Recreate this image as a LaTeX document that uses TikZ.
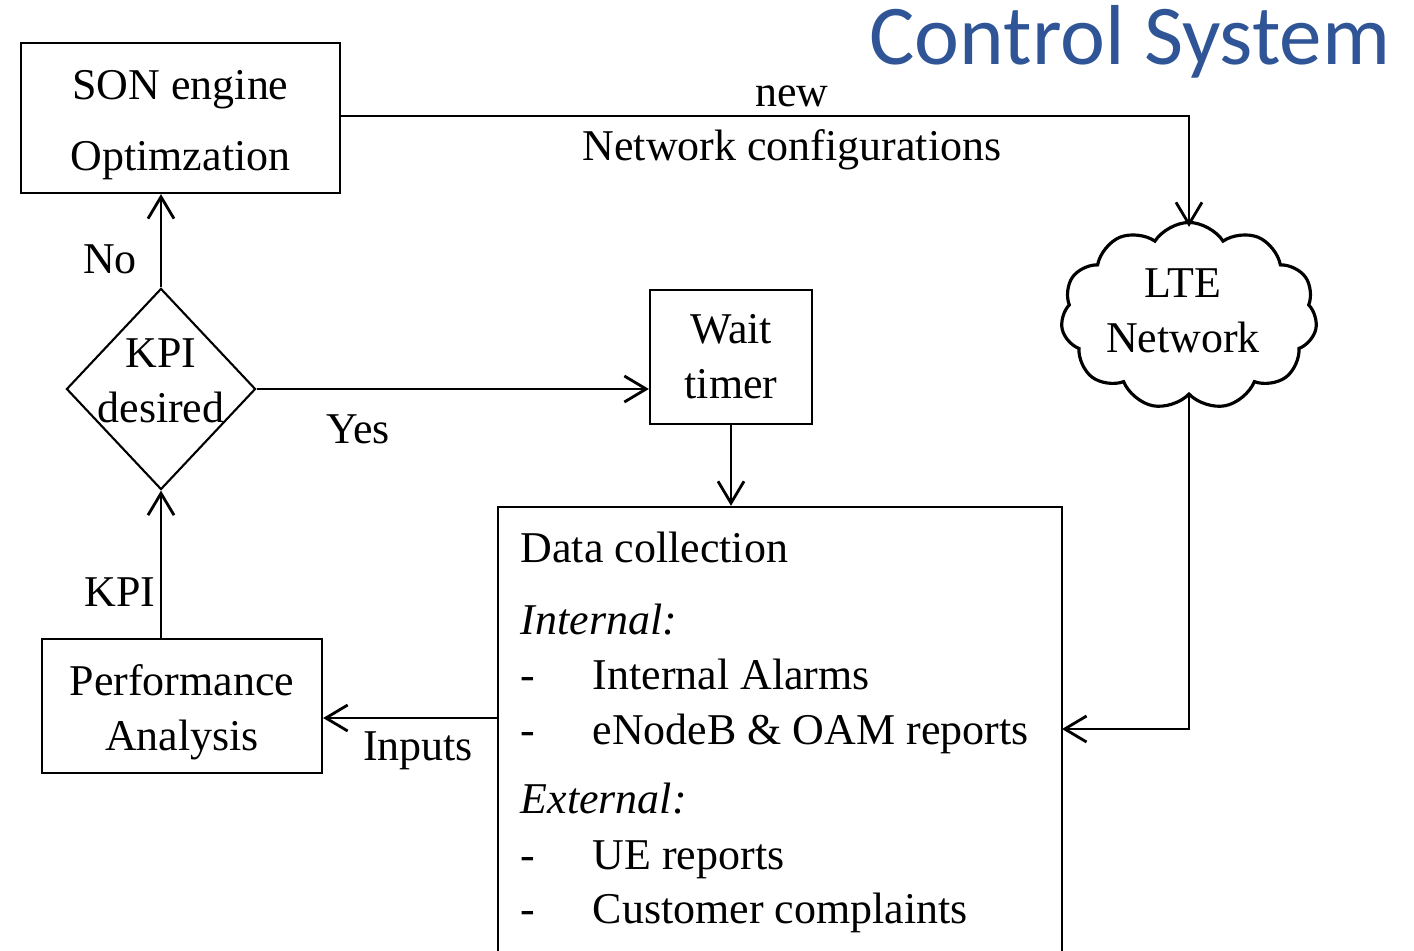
\documentclass[tikz,border=0pt]{standalone}
\usepackage{fontspec}
\setmainfont{Liberation Serif}
\newfontfamily\titlefont{Carlito}
\usetikzlibrary{arrows.meta,shapes.geometric,shapes.symbols}
\definecolor{titleblue}{RGB}{47,85,151}
\tikzset{
  box/.style={draw, line width=0.6pt, rectangle, inner sep=0pt},
  ctext/.style={inner sep=0pt, align=center},
  conn/.style={line width=0.8pt, -{Straight Barb[length=6.2pt,width=7.4pt,line width=0.8pt]}},
  txt/.style={inner sep=0pt, anchor=base},
  ltxt/.style={inner sep=0pt, anchor=base west},
}
\begin{document}
\begin{tikzpicture}[x=0.01cm,y=-0.01cm,font=\fontsize{12.5}{15.6}\selectfont]
\useasboundingbox (0,0) rectangle (1414,951);
\clip (0,0) rectangle (1414,951);
% title
\node[inner sep=0pt, anchor=base east, text=titleblue, font=\titlefont\fontsize{24.2}{28}\selectfont] (title) at (1391,64) {Control System};
% boxes
\node[box, minimum width=3.19cm, minimum height=1.50cm] (son) at (180.5,118) {};
\node[ctext] (sontext) at (180.5,125) {SON engine\\[4.6pt]Optimzation};
\node[box, minimum width=1.62cm, minimum height=1.34cm] (wait) at (731,357) {};
\node[ctext] (waittext) at (731,357) {Wait\\timer};
\node[box, minimum width=2.80cm, minimum height=1.34cm] (perf) at (182,706) {};
\node[ctext] (perftext) at (182,712) {Performance\\Analysis};
\node[draw, line width=0.6pt, diamond, minimum width=1.89cm, minimum height=2.01cm, inner sep=0pt] (dec) at (161,389) {};
\node[ctext] (dectext) at (161,381) {KPI\\desired};
\node[draw, line width=0.9pt, cloud, cloud puffs=11, cloud puff arc=115, minimum width=2.56cm, minimum height=1.87cm, inner sep=0pt] (lte) at (1189,316) {};
\node[ctext] (ltetext) at (1183,311) {LTE\\Network};
\node[draw, line width=0.6pt, rectangle, minimum width=5.64cm, minimum height=4.93cm, inner sep=0pt] (data) at (780,753.5) {};
% data collection text
\node[ltxt] (d1) at (520,562.7) {Data collection};
\node[ltxt] (d2) at (520,634) {\textit{Internal:}};
\node[ltxt] (d3a) at (520,689) {-};
\node[ltxt] (d3) at (592,689) {Internal Alarms};
\node[ltxt] (d4a) at (520,744) {-};
\node[ltxt] (d4) at (592,744) {eNodeB \& OAM reports};
\node[ltxt] (d5) at (520,813) {\textit{External:}};
\node[ltxt] (d6a) at (520,869) {-};
\node[ltxt] (d6) at (592,869) {UE reports};
\node[ltxt] (d7a) at (520,923) {-};
\node[ltxt] (d7) at (592,923) {Customer complaints};
% connector anchors
\coordinate (dcin) at (1062,729);
\coordinate (dcout) at (498,718);
% connectors
\draw[conn] (son.east |- 0,116) -| ([yshift=-0.06cm]lte.north);
\draw[conn] (lte.south) |- (dcin);
\draw[conn] (dec.north) -- (dec.north |- son.south);
\draw[conn] (dec.east) -- (dec.east -| wait.west);
\draw[conn] (wait.south) -- (wait.south |- data.north);
\draw[conn] (dcout) -- (dcout -| perf.east);
\draw[conn] (perf.north -| dec.south) -- (dec.south);
% labels
\node[txt] (lnew) at (792,106) {new};
\node[txt] (lnet) at (792,160) {Network configurations};
\node[txt] (lno) at (110,273) {No};
\node[txt] (lyes) at (358,443) {Yes};
\node[txt] (lkpi) at (120,606) {KPI};
\node[txt] (linputs) at (418,760) {Inputs};
\end{tikzpicture}
\end{document}
